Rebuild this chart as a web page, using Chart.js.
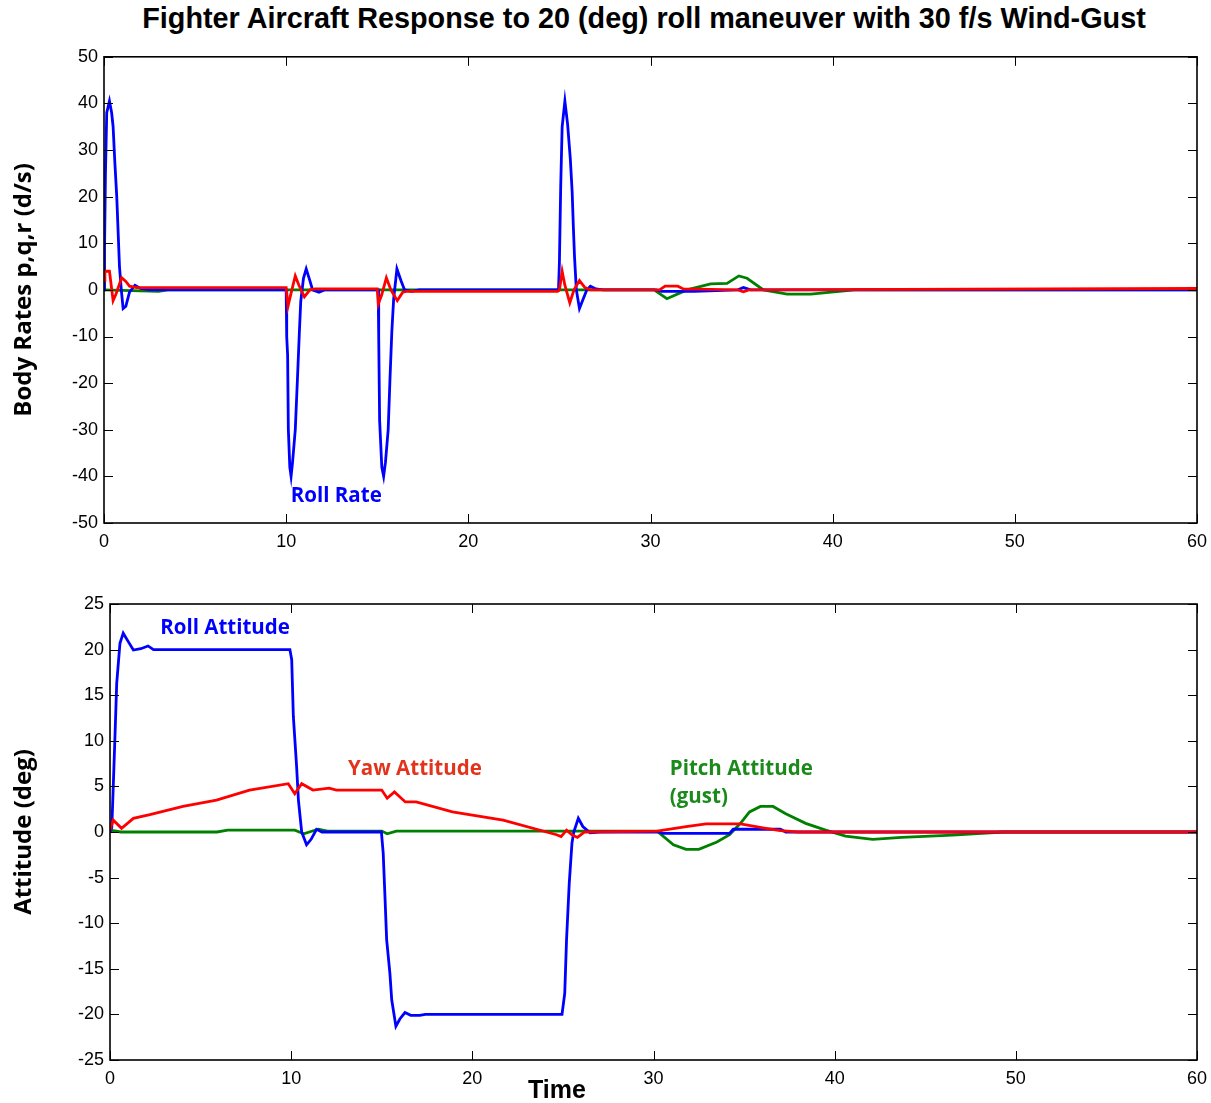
<!DOCTYPE html>
<html>
<head>
<meta charset="utf-8">
<title>Fighter Aircraft Response</title>
<script src="https://cdn.jsdelivr.net/npm/chart.js@4.4.1/dist/chart.umd.min.js"></script>
<style>
  body { margin: 0; background: #fff; width: 1211px; height: 1103px; position: relative; overflow: hidden; }
  #title { position: absolute; left: 0; top: 2px; width: 1288px; text-align: center; line-height: 33px;
           font: bold 28.8px 'Liberation Sans', Arial, sans-serif; color: #000; white-space: nowrap; }
  #xlabel { position: absolute; left: 457px; top: 1075px; width: 200px; text-align: center;
            font: bold 25px 'Liberation Sans', Arial, sans-serif; color: #000; }
  canvas { position: absolute; left: 0; }
  #rates { top: 40px; }
  #attitude { top: 580px; }
</style>
</head>
<body>
<div id="title">Fighter Aircraft Response to 20 (deg) roll maneuver with 30 f/s Wind-Gust</div>
<canvas id="rates" width="1211" height="520"></canvas>
<canvas id="attitude" width="1211" height="523"></canvas>
<div id="xlabel">Time</div>
<script>
// ---- data (time in s) ----

// top: body rates (deg/s)
const rollRateT = [0, 0.03, 0.08, 0.15, 0.3, 0.42, 0.5, 0.6, 0.7, 0.78, 0.85, 0.95, 1.05, 1.2, 1.4, 1.7, 2.0, 2.5,
  10.0, 10.03, 10.08, 10.12, 10.2, 10.27, 10.35, 10.5, 10.62, 10.72, 10.8, 10.95, 11.1, 11.3, 11.45, 11.8, 12.1,
  15.05, 15.08, 15.13, 15.25, 15.35, 15.45, 15.6, 15.7, 15.8, 15.9, 16.08, 16.3, 16.5, 16.9, 17.3,
  24.95, 25.0, 25.07, 25.15, 25.3, 25.45, 25.6, 25.7, 25.77, 25.83, 25.93, 26.1, 26.3, 26.5, 26.7, 27.0, 27.4,
  30.3, 30.6, 32.4, 34.8, 35.1, 35.5, 60];
const rollRateV = [0, 9, 25, 38, 40.5, 38, 35, 27, 20, 12, 5, 0, -4, -3.5, -0.5, 1, 0.3, 0,
  0, -10, -14, -30, -38, -40, -37, -30, -19, -9.5, -2.5, 2.5, 4.5, 2, 0, -0.5, 0,
  0, -10, -28, -38, -40, -37, -30, -19, -9, -2, 4.5, 2, 0, -0.3, 0,
  0, 6, 22, 35, 40.5, 35.5, 28, 21, 13, 7, 0, -4, -2, 0, 0.8, 0.2, 0,
  0, -0.3, -0.3, 0, 0.5, 0, 0];

const yawRateT = [0, 0.05, 0.3, 0.5, 0.65, 0.97, 1.2, 1.4, 1.8, 10.0, 10.1, 10.25, 10.5, 10.7, 11.0, 11.3, 11.6,
  15.0, 15.06, 15.25, 15.5, 15.75, 16.1, 16.4, 16.6, 24.9, 25.0, 25.15, 25.3, 25.57, 25.8, 26.1, 26.4, 26.7,
  30.5, 30.8, 31.5, 31.8, 34.8, 35.1, 35.4, 60];
const yawRateV = [2, 4, 4, -2.3, -1, 2.6, 1.8, 0.8, 0.5, 0.5, -3.5, -1, 3, 1, -1.5, 0, 0.2,
  0.2, -3, -1, 2.6, 0, -2.3, -0.5, -0.3, -0.3, 0, 4, 1, -2.8, 0, 2, 0.5, 0,
  0, 0.8, 0.8, 0.2, 0, -0.4, 0, 0.3];

const pitchRateT = [0, 2.0, 3.0, 3.5, 30.2, 30.9, 32.0, 33.3, 34.2, 34.85, 35.3, 36.2, 37.5, 38.8, 41.2, 60];
const pitchRateV = [0, -0.2, -0.3, 0, 0, -1.9, 0, 1.3, 1.4, 3, 2.5, 0, -0.9, -0.9, 0, 0];

// bottom: attitudes (deg)
const rollAttT = [0, 0.1, 0.18, 0.28, 0.37, 0.55, 0.73, 1.0, 1.29, 1.7, 2.1, 2.4, 9.93, 10.03, 10.12, 10.3, 10.4,
  10.58, 10.85, 11.1, 11.4, 11.7, 14.98, 15.08, 15.17, 15.27, 15.45, 15.55, 15.78, 16.0, 16.28, 16.6, 17.1, 17.4,
  24.95, 25.1, 25.2, 25.35, 25.5, 25.6, 25.85, 26.1, 26.5, 27.0, 30.35, 30.5, 34.2, 34.4, 37.0, 37.3, 60];
const rollAttV = [0, 0.5, 5, 10.8, 16.3, 20.7, 21.8, 20.9, 19.95, 20.1, 20.4, 20, 20, 18.9, 12.7, 7.2, 3.5,
  0, -1.4, -0.8, 0.3, 0, 0, -2.3, -6.7, -11.8, -15.5, -18.4, -21.3, -20.5, -19.8, -20.1, -20.1, -20,
  -20, -17.7, -11.8, -5.6, -1.2, 0, 1.5, 0.6, -0.1, 0, 0, -0.15, -0.15, 0.3, 0.3, 0, 0];

const yawAttT = [0, 0.18, 0.64, 1.29, 2.2, 4.03, 5.88, 7.7, 9.84, 10.2, 10.58, 11.2, 12.1, 12.5, 15.0, 15.3,
  15.7, 16.3, 16.9, 18.9, 21.7, 24.65, 24.9, 25.2, 25.5, 25.8, 26.2, 30.2, 31.8, 32.9, 34.8, 36.2, 37.0, 38.0, 60];
const yawAttV = [0.2, 1.3, 0.4, 1.5, 1.9, 2.8, 3.5, 4.6, 5.3, 4.2, 5.3, 4.6, 4.8, 4.6, 4.6, 3.7,
  4.4, 3.3, 3.3, 2.2, 1.3, -0.3, -0.5, 0.2, -0.3, -0.6, 0, 0.1, 0.6, 0.9, 0.9, 0.4, 0.15, 0, 0];

const pitchAttT = [0, 0.6, 5.9, 6.5, 10.2, 10.7, 11.0, 11.5, 12.0, 15.0, 15.3, 15.8, 30.2, 31.1, 31.8, 32.5,
  33.5, 34.2, 34.8, 35.3, 35.9, 36.6, 37.3, 38.4, 39.5, 40.6, 42.1, 43.7, 46.5, 49.3, 60];
const pitchAttV = [0.2, 0, 0, 0.2, 0.2, -0.2, 0, 0.3, 0.1, 0.1, -0.2, 0.1, 0.1, -1.4, -1.9, -1.9,
  -1.1, -0.3, 0.95, 2.2, 2.8, 2.8, 2.0, 0.95, 0.2, -0.45, -0.8, -0.6, -0.35, 0, 0];

// axis ranges / ticks
const timeTicks = [0, 60, 10];
const rateTicks = [-50, 50, 10];
const attTicks = [-25, 25, 5];

// text written on the curves
const rateLabels = [{ text: 'Roll Rate', t: 12.75, v: -44.2, color: '#0000ff', align: 'center' }];
const attLabels = [
  { text: 'Roll Attitude', t: 6.35, v: 22.4, color: '#0000ff', align: 'center' },
  { text: 'Yaw Attitude', t: 16.83, v: 6.9, color: '#e2341c', align: 'center' },
  { text: 'Pitch Attitude', t: 30.9, v: 6.9, color: '#1a8a1a', align: 'left' },
  { text: '(gust)', t: 30.9, v: 3.85, color: '#1a8a1a', align: 'left' },
];

const BLUE = '#0000ff', RED = '#ff0000', GREEN = '#008000';
const tickFont = { family: "'Liberation Sans Narrow', 'Liberation Sans', Arial, sans-serif", size: 18 };

function pts(ts, vs) {
  return ts.map((t, i) => ({ x: t, y: vs[i] }));
}

function line(ts, vs, color, order) {
  return {
    data: pts(ts, vs),
    borderColor: color,
    borderWidth: 2.8,
    pointRadius: 0,
    fill: false,
    tension: 0,
    order: order,
  };
}

// MATLAB style box with inward tick marks on all four sides
const matlabBox = {
  id: 'matlabBox',
  afterDatasetsDraw(chart) {
    const { ctx, chartArea: a, scales: { x, y } } = chart;
    const len = 9;
    ctx.save();
    ctx.strokeStyle = '#000';
    ctx.lineWidth = 1;
    ctx.beginPath();
    x.ticks.forEach(tk => {
      const px = Math.round(x.getPixelForValue(tk.value)) + 0.5;
      ctx.moveTo(px, a.bottom); ctx.lineTo(px, a.bottom - len);
      ctx.moveTo(px, a.top); ctx.lineTo(px, a.top + len);
    });
    y.ticks.forEach(tk => {
      const py = Math.round(y.getPixelForValue(tk.value)) + 0.5;
      ctx.moveTo(a.left, py); ctx.lineTo(a.left + len, py);
      ctx.moveTo(a.right, py); ctx.lineTo(a.right - len, py);
    });
    ctx.stroke();
    ctx.lineWidth = 1.6;
    ctx.strokeRect(a.left, a.top, a.width, a.height);
    ctx.restore();
  }
};

// labels placed in data coordinates
const curveLabels = {
  id: 'curveLabels',
  afterDraw(chart, args, opts) {
    const { ctx, scales: { x, y } } = chart;
    ctx.save();
    ctx.font = "bold 20.5px 'Open Sans', 'Noto Sans', sans-serif";
    ctx.textBaseline = 'middle';
    (opts.items || []).forEach(it => {
      ctx.fillStyle = it.color;
      ctx.textAlign = it.align;
      ctx.fillText(it.text, x.getPixelForValue(it.t), y.getPixelForValue(it.v));
    });
    ctx.restore();
  }
};

function makeChart(id, datasets, yTicks, yTitle, leftWidth, bottomHeight, padTop, labels) {
  return new Chart(document.getElementById(id), {
    type: 'line',
    data: { datasets },
    options: {
      responsive: false,
      animation: false,
      parsing: false,
      layout: { padding: { top: padTop, right: 14, left: 0, bottom: 0 } },
      scales: {
        x: {
          type: 'linear',
          min: timeTicks[0], max: timeTicks[1],
          ticks: { stepSize: timeTicks[2], color: '#000', font: tickFont, padding: 8, maxRotation: 0 },
          grid: { display: false, drawTicks: false },
          border: { display: false },
          afterFit: s => { s.height = bottomHeight; s.paddingLeft = 0; s.paddingRight = 0; },
        },
        y: {
          min: yTicks[0], max: yTicks[1],
          ticks: { stepSize: yTicks[2], color: '#000', font: tickFont, padding: 6 },
          grid: { display: false, drawTicks: false },
          border: { display: false },
          title: {
            display: true, text: yTitle, color: '#000',
            font: { family: "'Open Sans', 'Noto Sans', sans-serif", size: 24, weight: 'bold' },
            padding: { top: 10, bottom: 0 },
          },
          afterFit: s => { s.width = leftWidth; },
        },
      },
      plugins: {
        legend: { display: false },
        tooltip: { enabled: false },
        curveLabels: { items: labels },
      },
    },
    plugins: [matlabBox, curveLabels],
  });
}

makeChart('rates', [
  line(yawRateT, yawRateV, RED, 0),
  line(rollRateT, rollRateV, BLUE, 1),
  line(pitchRateT, pitchRateV, GREEN, 2),
], rateTicks, 'Body Rates p,q,r (d/s)', 104, 37, 15, rateLabels);

makeChart('attitude', [
  line(yawAttT, yawAttV, RED, 0),
  line(rollAttT, rollAttV, BLUE, 1),
  line(pitchAttT, pitchAttV, GREEN, 2),
], attTicks, 'Attitude (deg)', 110, 43, 24, attLabels);
</script>
</body>
</html>
